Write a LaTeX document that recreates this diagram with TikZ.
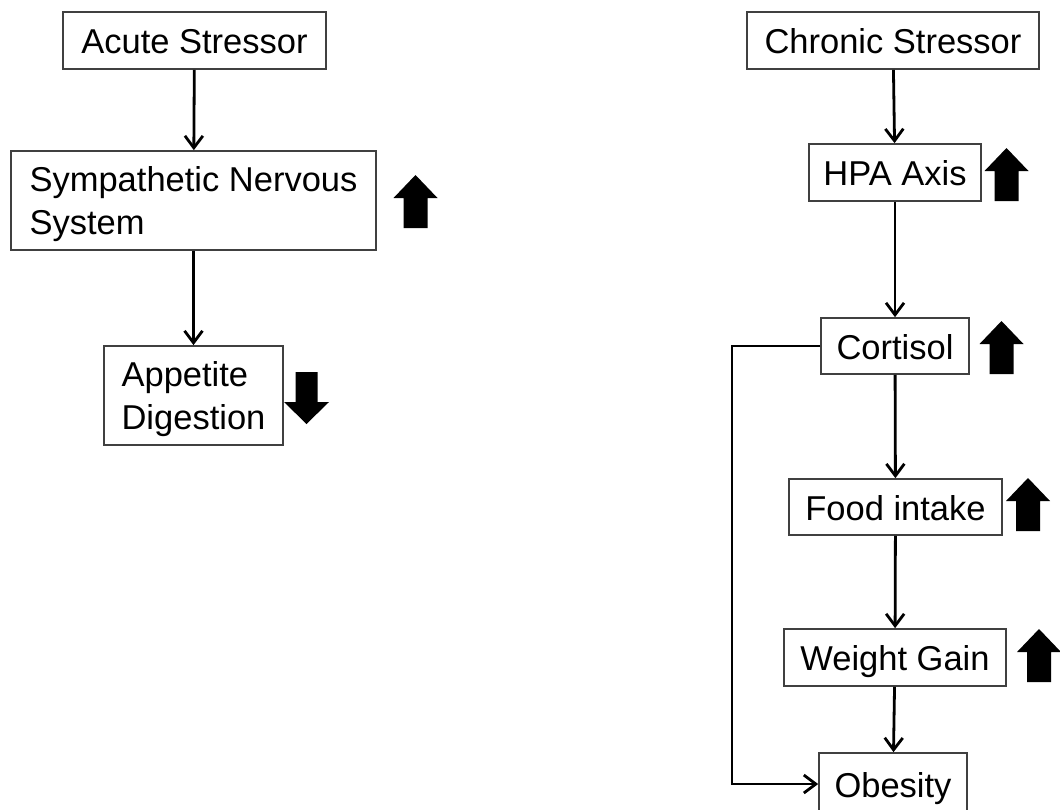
\documentclass[tikz,border=0pt]{standalone}
\usepackage{fontspec}
\setmainfont{Liberation Sans}
\usetikzlibrary{arrows.meta}

\tikzset{
  box/.style={draw=black!75, line width=1.7pt, rectangle, inner sep=0pt,
    font=\fontsize{34.5}{43}\selectfont},
  oneline/.style={box, text height=26pt, text depth=0pt},
  twoline/.style={box, align=left, text depth=0pt},
  link/.style={line width=2.8pt, -{Straight Barb[length=12pt,width=18pt,line width=2.8pt]}},
  bigup/.pic={
    \fill (-12,0) -- (12,0) -- (12,-30) -- (22,-30) -- (0,-53) -- (-22,-30) -- (-12,-30) -- cycle;
  },
  bigdown/.pic={
    \fill (-11,0) -- (11,0) -- (11,30) -- (22.5,30) -- (0,52) -- (-22.5,30) -- (-11,30) -- cycle;
  }
}

\begin{document}
\begin{tikzpicture}[x=1pt, y=-1pt]
\useasboundingbox[fill=white] (0,0) rectangle (1060,809);

% acute stress pathway
\node[oneline, minimum width=263pt, minimum height=57pt] (acute) at (194.5,40.5) {Acute Stressor};
\node[twoline, minimum width=365pt, minimum height=99pt] (sns) at (193.5,200.5) {Sympathetic Nervous\\System};
\node[twoline, minimum width=179pt, minimum height=99pt] (app) at (193.5,395.5) {Appetite\\Digestion};

\draw[link] (acute) -- (sns);
\draw[link] (sns) -- (app);

\pic at (415.5,228) {bigup};
\pic at (306.5,372) {bigdown};

% chronic stress pathway
\node[oneline, minimum width=292pt, minimum height=57pt] (chronic) at (893,40.5) {Chronic Stressor};
\node[oneline, minimum width=172pt, minimum height=57pt] (hpa) at (895,172.5) {HPA Axis};
\node[oneline, minimum width=148pt, minimum height=56pt] (cort) at (895,346) {Cortisol};
\node[oneline, minimum width=213pt, minimum height=56pt] (food) at (895.5,507) {Food intake};
\node[oneline, minimum width=222pt, minimum height=57pt] (weight) at (895,657.5) {Weight Gain};
\node[oneline, minimum width=148pt, minimum height=62pt] (obes) at (893,784) {Obesity};

\draw[link] (chronic) -- (hpa);
\draw[link] (hpa) -- (cort);
\draw[link] (cort) -- (food);
\draw[link] (food) -- (weight);
\draw[link] (weight) -- (obes);

% direct route from cortisol to obesity
\coordinate (fb) at (732,346);
\draw[link] (cort.west) -- (fb) |- (obes.west);

\pic at (1006.5,201) {bigup};
\pic at (1001.5,374) {bigup};
\pic at (1028,531) {bigup};
\pic at (1039,682) {bigup};
\end{tikzpicture}
\end{document}
